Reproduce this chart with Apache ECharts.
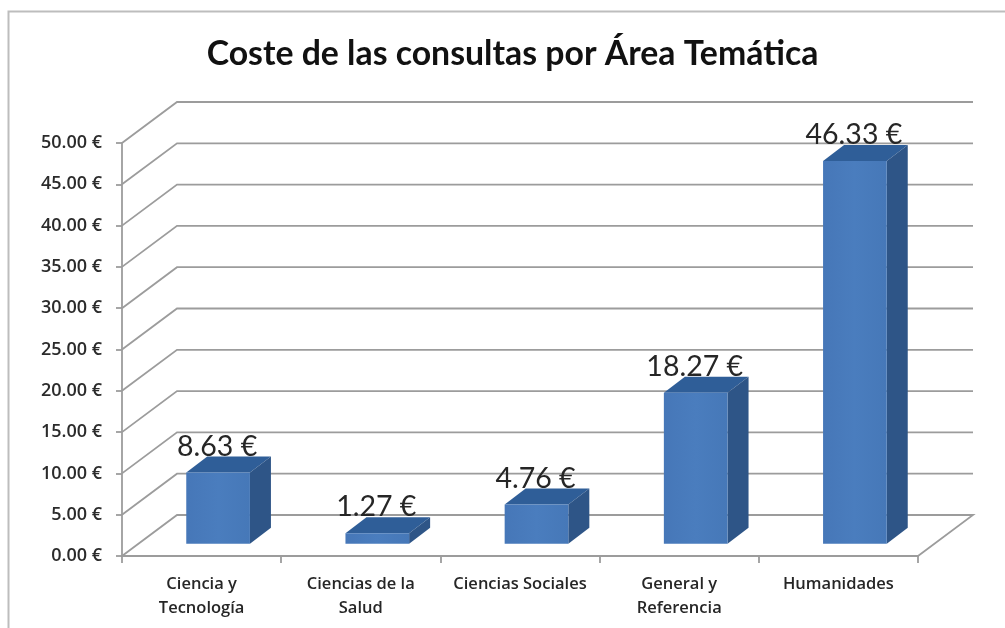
<!DOCTYPE html>
<html>
<head>
<meta charset="utf-8">
<style>html,body{margin:0;padding:0;background:#fff}#c{width:1005px;height:628px}</style>
<script src="https://cdn.jsdelivr.net/npm/echarts@6/dist/echarts.min.js"></script>
</head>
<body>
<div id="c"></div>
<script>
const titleText = 'Coste de las consultas por Área Temática';
const categories = ['Ciencia y\nTecnología', 'Ciencias de la\nSalud', 'Ciencias Sociales', 'General y\nReferencia', 'Humanidades'];
const values = [8.63, 1.27, 4.76, 18.27, 46.33];
const yTicks = [0, 5, 10, 15, 20, 25, 30, 35, 40, 45, 50];

const euro = v => v.toFixed(2) + ' €';
const DEPTH_X = 55, DEPTH_Y = -41;      // oblique wall depth
const GRID = '#9c9c9c';
const FONT = 'Lato, "Open Sans", sans-serif';
const AXISFONT = '"Open Sans", sans-serif';

const chart = echarts.init(document.getElementById('c'), null, {renderer: 'canvas'});

function wallItem(params, api) {
  const v = api.value(0);
  const lx = params.coordSys.x, rx = lx + params.coordSys.width;
  const y = api.coord([0, v])[1];
  const style = {stroke: GRID, lineWidth: 1.8, fill: null};
  const children = [];
  const pts = [[lx, y], [lx + DEPTH_X, y + DEPTH_Y], [rx + DEPTH_X, y + DEPTH_Y]];
  if (v === 0) pts.push([rx, y]);
  children.push({type: 'polyline', shape: {points: pts}, style});
  return {type: 'group', children, silent: true};
}

function barItem(params, api) {
  const cat = api.value(0), val = api.value(1);
  const band = params.coordSys.width / categories.length;
  const p0 = api.coord([cat, 0]), p1 = api.coord([cat, val]);
  const w = band * 0.4;
  const bx = DEPTH_X * 0.3, by = DEPTH_Y * 0.3;     // gap in front of the bar
  const dx = 21, dy = -16;                          // bar depth
  const l = p0[0] - w / 2 + bx, r = l + w;
  const b = p0[1] + by, t = p1[1] + by;
  return {
    type: 'group',
    children: [
      {type: 'polygon', shape: {points: [[l, t], [r, t], [r + dx, t + dy], [l + dx, t + dy]]},
        style: {fill: '#2f5e98'}},
      {type: 'polygon', shape: {points: [[r, t], [r + dx, t + dy], [r + dx, b + dy], [r, b]]},
        style: {fill: '#2e5587'}},
      {type: 'rect', shape: {x: l, y: t, width: w, height: b - t},
        style: {fill: new echarts.graphic.LinearGradient(0, 0, 1, 0, [
          {offset: 0, color: '#4677b8'}, {offset: 0.5, color: '#4a7dbe'}, {offset: 1, color: '#4678b8'}])}},
      {type: 'text', x: (l + r) / 2 - 1, y: t - 26,
        style: {text: euro(val), font: '28.5px ' + FONT, fill: '#262626', align: 'center', verticalAlign: 'middle'}}
    ]
  };
}

chart.setOption({
  animation: false,
  backgroundColor: '#ffffff',
  title: {
    text: titleText, left: 507.5, top: 32, textAlign: 'center',
    textStyle: {fontFamily: FONT, fontSize: 33.8, fontWeight: 'bold', color: '#111111'}
  },
  grid: {left: 122, width: 796, top: 143, height: 413},
  graphic: [
    {type: 'polyline', silent: true, z: 0,
      shape: {points: [[8.5, 628], [8.5, 11.5], [1005, 11.5]]},
      style: {stroke: '#bdbdbd', lineWidth: 2, fill: null}}
  ],
  xAxis: {
    type: 'category', data: categories,
    axisLine: {lineStyle: {color: GRID, width: 1.8}},
    axisTick: {show: true, length: 7, lineStyle: {color: GRID, width: 1.8}},
    axisLabel: {interval: 0, margin: 16, fontFamily: AXISFONT, fontSize: 16.5, lineHeight: 24, color: '#262626', fontWeight: 600}
  },
  yAxis: {
    type: 'value', min: 0, max: 50, interval: 5,
    axisLine: {show: true, lineStyle: {color: GRID, width: 1.8}},
    axisTick: {show: true, length: 6, lineStyle: {color: GRID, width: 1.8}},
    splitLine: {show: false},
    axisLabel: {margin: 20, padding: [8, 0, 0, 0], fontFamily: AXISFONT, fontSize: 18, fontWeight: 600, color: '#2b2b2b', formatter: v => euro(v)}
  },
  series: [
    {type: 'custom', name: 'walls', data: yTicks.map(v => [v]), renderItem: wallItem, encode: {y: 0}, z: 1, silent: true},
    {type: 'custom', name: 'Coste', data: values.map((v, i) => [i, v]), renderItem: barItem, encode: {x: 0, y: 1}, z: 3}
  ]
});
</script>
</body>
</html>
